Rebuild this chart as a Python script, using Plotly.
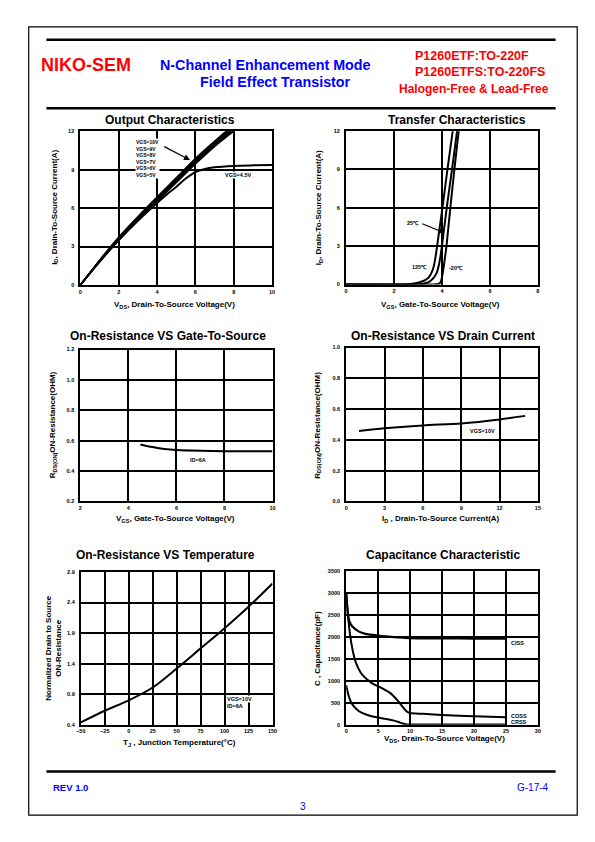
import plotly.graph_objects as go

W, H = 595, 842
OFF = 8  # browser default body margin
FW, FH = W - OFF, H - OFF
FONT = "Liberation Sans, Arial, sans-serif"

# ---------------- data ----------------
# Output characteristics
out_vds = [0, 1, 2, 3, 4, 5, 6, 7, 8, 8.5]
out_id_10 = [0, 1.92, 3.72, 5.32, 6.85, 8.35, 9.85, 11.2, 12.5, 13.1]
out_id_9 = [0, 1.9, 3.68, 5.27, 6.78, 8.27, 9.76, 11.1, 12.4, 13.0]
out_id_8 = [0, 1.88, 3.64, 5.22, 6.72, 8.2, 9.68, 11.02, 12.3, 12.9]
out_id_7 = [0, 1.86, 3.6, 5.17, 6.66, 8.13, 9.6, 10.95, 12.2, 12.8]
out_id_6 = [0, 1.84, 3.56, 5.12, 6.6, 8.06, 9.52, 10.87, 12.1, 12.7]
out_id_5 = [0, 1.82, 3.52, 5.06, 6.52, 7.98, 9.44, 10.8, 12.0, 12.6]
out_vds_45 = [0, 1, 2, 3, 4, 4.5, 5, 5.5, 6, 6.5, 7, 8, 9, 10]
out_id_45 = [0, 1.8, 3.48, 5.0, 6.4, 7.05, 7.65, 8.3, 8.8, 9.05, 9.18, 9.29, 9.33, 9.35]

# Transfer characteristics
tr_vgs_125 = [0, 2.2, 2.6, 2.9, 3.1, 3.3, 3.45, 3.55, 3.65, 3.72, 3.8, 4.02, 4.23, 4.45, 4.5]
tr_id_125 = [0, 0, 0.03, 0.1, 0.2, 0.35, 0.55, 0.85, 1.35, 2.0, 3.0, 6.0, 9.0, 12.0, 12.7]
tr_vgs_25 = [0, 2.8, 3.1, 3.3, 3.5, 3.62, 3.72, 3.8, 3.87, 3.93, 4.0, 4.2, 4.42, 4.63, 4.7]
tr_id_25 = [0, 0, 0.03, 0.1, 0.25, 0.45, 0.7, 1.0, 1.5, 2.1, 3.0, 6.0, 9.0, 12.0, 13.0]
tr_vgs_m20 = [0, 3.5, 3.75, 3.88, 3.95, 4.0, 4.06, 4.12, 4.19, 4.35, 4.52, 4.7, 4.75]
tr_id_m20 = [0, 0, 0.02, 0.06, 0.2, 0.55, 1.2, 2.0, 3.0, 6.0, 9.0, 12.0, 12.7]

# On-resistance vs VGS
rg_vgs = [4.5, 5, 5.5, 6, 7, 8, 9, 10]
rg_r = [0.575, 0.558, 0.545, 0.538, 0.533, 0.531, 0.530, 0.530]

# On-resistance vs ID
rd_id = [1, 3, 6, 9, 12, 14]
rd_r = [0.458, 0.475, 0.494, 0.507, 0.533, 0.556]

# On-resistance vs temperature
rt_t = [-50, -25, 0, 25, 50, 75, 100, 125, 150]
rt_r = [0.44, 0.63, 0.80, 1.01, 1.32, 1.65, 1.98, 2.33, 2.71]

# Capacitance
c_vds_iss = [0, 0.2, 0.5, 1, 2, 3, 5, 8, 10, 15, 20, 25]
c_iss = [3000, 2600, 2350, 2230, 2120, 2070, 2030, 1990, 1970, 1965, 1962, 1960]
c_vds_oss = [0, 0.3, 0.6, 1, 1.5, 2.5, 4, 5.5, 7, 8, 9, 9.5, 10, 12, 15, 20, 25]
c_oss = [3000, 2450, 2050, 1700, 1420, 1140, 950, 840, 710, 560, 380, 300, 270, 250, 225, 195, 170]
c_vds_rss = [0, 0.3, 0.7, 1.2, 2, 3, 4, 5, 6.5, 7.5, 8.2, 8.8, 9.5, 10, 25]
c_rss = [900, 700, 530, 420, 310, 240, 195, 165, 125, 95, 65, 30, 8, 5, 5]


def X(px):
    return (px - OFF) / FW


def Y(py):
    return 1 - (py - OFF) / FH


fig = go.Figure()

# panel definitions: (id, x-domain px, y-domain px (top,bottom), xrange, xdtick, yrange, ydtick, yfmt, ytick0)
panels = [
    (1, (76.5, 271.5), (129, 284), [0, 10], 2, [0, 12], 3, None, None),
    (2, (346.7, 542), (129, 283.5), [0, 8], 2, [0, 12], 3, None, None),
    (3, (76.5, 272), (349, 502), [2, 10], 2, [0.2, 1.2], 0.2, ".1f", None),
    (4, (347, 542), (347, 502), [0, 15], 3, [0, 1.0], 0.2, ".1f", None),
    (5, (77, 272), (573, 727), [-50, 150], 25, [0.4, 2.9], 0.5, ".1f", 0.4),
    (6, (347, 542), (572, 727), [0, 30], 5, [0, 3500], 500, None, None),
]

tickfont = dict(family=FONT, size=5.5, color="black", weight="bold")
for (i, xd, yd, xr, xdt, yr, ydt, yfmt, y0) in panels:
    key = "" if i == 1 else str(i)
    xa = dict(domain=[X(xd[0]), X(xd[1])], range=xr, dtick=xdt, tick0=xr[0],
              showline=True, linecolor="black", linewidth=2, mirror=True,
              showgrid=True, gridcolor="black", gridwidth=1.5, zeroline=False,
              ticks="", tickfont=tickfont, anchor="y" + key, fixedrange=True)
    ya = dict(domain=[Y(yd[1]), Y(yd[0])], range=yr, dtick=ydt,
              tick0=(y0 if y0 is not None else yr[0]),
              showline=True, linecolor="black", linewidth=2, mirror=True,
              showgrid=True, gridcolor="black", gridwidth=1.5, zeroline=False,
              ticks="outside", ticklen=3, tickcolor="rgba(0,0,0,0)",
              tickfont=tickfont, anchor="x" + key, fixedrange=True)
    if yfmt:
        ya["tickformat"] = yfmt
    fig.layout["xaxis" + key] = xa
    fig.layout["yaxis" + key] = ya


def add(x, y, i, w=2):
    key = "" if i == 1 else str(i)
    fig.add_trace(go.Scatter(x=x, y=y, mode="lines",
                             line=dict(color="black", width=w, shape="spline", smoothing=0.8),
                             xaxis="x" + key, yaxis="y" + key, showlegend=False, hoverinfo="skip"))


for ys in [out_id_10, out_id_9, out_id_8, out_id_7, out_id_6, out_id_5]:
    add(out_vds, ys, 1, w=1.6)
add(out_vds_45, out_id_45, 1)

add(tr_vgs_125, tr_id_125, 2)
add(tr_vgs_25, tr_id_25, 2)
add(tr_vgs_m20, tr_id_m20, 2)

add(rg_vgs, rg_r, 3)
add(rd_id, rd_r, 4)
add(rt_t, rt_r, 5)
add(c_vds_iss, c_iss, 6, w=2.2)
add(c_vds_oss, c_oss, 6)
add(c_vds_rss, c_rss, 6)

ann = []


def txt(x, y, text, size, color="black", bold=True, xanchor="center", yanchor="middle", angle=0):
    ann.append(dict(x=X(x), y=Y(y), xref="paper", yref="paper",
                    text=("<b>%s</b>" % text) if bold else text,
                    showarrow=False, xanchor=xanchor, yanchor=yanchor, textangle=angle,
                    font=dict(family=FONT, size=size, color=color)))


def dtxt(i, x, y, text, size=5.5, xanchor="center", bg="white", align="center"):
    key = "" if i == 1 else str(i)
    d = dict(x=x, y=y, xref="x" + key, yref="y" + key, text="<b>%s</b>" % text, showarrow=False,
             xanchor=xanchor, yanchor="middle", align=align,
             font=dict(family=FONT, size=size, color="black"), borderpad=0)
    if bg:
        d["bgcolor"] = bg
    ann.append(d)


# header
txt(82, 62, "NIKO-SEM", 18, color="red")
txt(265, 62, "N-Channel Enhancement Mode", 14.3, color="blue")
txt(275, 80, "Field Effect Transistor", 14.3, color="blue")
txt(415, 53, "P1260ETF:TO-220F", 12.5, color="red", xanchor="left")
txt(415, 69, "P1260ETFS:TO-220FS", 12.5, color="red", xanchor="left")
txt(477, 87, "Halogen-Free &amp; Lead-Free", 12, color="red")

# titles
txt(168, 118, "Output Characteristics", 12)
txt(460, 118, "Transfer Characteristics", 12)
txt(166, 335, "On-Resistance VS Gate-To-Source", 12)
txt(445, 335, "On-Resistance VS Drain Current", 12)
txt(163, 556, "On-Resistance VS Temperature", 12)
txt(445, 556, "Capacitance Characteristic", 12)

# axis titles
XT = 8
txt(172, 304, "V<sub>DS</sub>, Drain-To-Source Voltage(V)", XT)
txt(443, 304, "V<sub>GS</sub>, Gate-To-Source Voltage(V)", XT)
txt(173, 520, "V<sub>GS</sub>, Gate-To-Source Voltage(V)", XT)
txt(443, 520, "I<sub>D</sub> , Drain-To-Source Current(A)", XT)
txt(177, 745, "T<sub>J</sub> , Junction Temperature(°C)", XT)
txt(447, 741, "V<sub>DS</sub>, Drain-To-Source Voltage(V)", XT)

txt(50, 206, "I<sub>D</sub>, Drain-To-Source Current(A)", XT, angle=-90)
txt(319, 206, "I<sub>D</sub>, Drain-To-Source Current(A)", XT, angle=-90)
txt(49, 425, "R<sub>DS(ON)</sub>ON-Resistance(OHM)", XT, angle=-90)
txt(318, 425, "R<sub>DS(ON)</sub>ON-Resistance(OHM)", XT, angle=-90)
txt(49, 650, "Normalized Drain to Source<br>ON-Resistance", XT, angle=-90)
txt(318, 650, "C , Capacitance(pF)", XT, angle=-90)

# in-plot labels
dtxt(1, 4.18, 9.83, "VGS=10V<br>VGS=9V<br>VGS=8V<br>VGS=7V<br>VGS=6V<br>VGS=5V",
     size=5, xanchor="right", align="left")
dtxt(1, 8.2, 8.6, "VGS=4.5V")
ann.append(dict(x=5.72, y=9.75, ax=4.3, ay=10.85, xref="x", yref="y", axref="x", ayref="y", text="",
                showarrow=True, arrowhead=2, arrowsize=1, arrowwidth=1.2, arrowcolor="black"))

dtxt(2, 3.1, 4.85, "25℃", xanchor="right")
ann.append(dict(x=4.1, y=4.04, ax=3.12, ay=4.8, xref="x2", yref="y2", axref="x2", ayref="y2", text="",
                showarrow=True, arrowhead=2, arrowsize=1, arrowwidth=1.2, arrowcolor="black"))
dtxt(2, 3.07, 1.39, "125℃")
dtxt(2, 4.6, 1.31, "-20℃")

dtxt(3, 6.9, 0.47, "ID=6A")
dtxt(4, 10.7, 0.455, "VGS=10V")
dtxt(5, 101, 0.82, "VGS=10V", xanchor="left")
dtxt(5, 101, 0.71, "ID=6A", xanchor="left")
dtxt(6, 25.6, 1870, "CISS", xanchor="left")
dtxt(6, 25.6, 190, "COSS", xanchor="left", bg=None)
dtxt(6, 25.6, 60, "CRSS", xanchor="left", bg=None)

# footer
txt(47, 790, "REV 1.0", 9.5, color="blue", xanchor="left")
txt(555, 790, "G-17-4", 10, color="blue", bold=False, xanchor="right")
txt(303, 809, "3", 10, color="blue", bold=False)

shapes = [
    dict(type="rect", xref="paper", yref="paper", x0=X(24), x1=X(582), y0=Y(818), y1=Y(24),
         line=dict(color="black", width=1.2)),
    dict(type="line", xref="paper", yref="paper", x0=X(42), x1=X(560), y0=Y(37), y1=Y(37),
         line=dict(color="black", width=2.5)),
    dict(type="line", xref="paper", yref="paper", x0=X(42), x1=X(560), y0=Y(106), y1=Y(106),
         line=dict(color="black", width=2.5)),
    dict(type="line", xref="paper", yref="paper", x0=X(42), x1=X(560), y0=Y(774), y1=Y(774),
         line=dict(color="black", width=2.5)),
]

fig.update_layout(width=FW, height=FH, margin=dict(l=0, r=0, t=0, b=0), paper_bgcolor="white",
                  plot_bgcolor="white", annotations=ann, shapes=shapes, showlegend=False,
                  font=dict(family=FONT, color="black"))

fig.write_html("out.html", config={"displayModeBar": False})
